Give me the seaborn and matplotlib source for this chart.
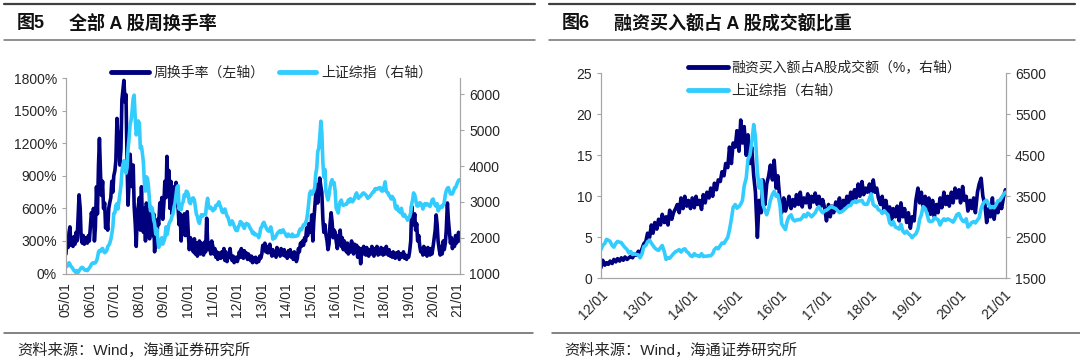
import matplotlib
matplotlib.use("Agg")
import matplotlib.pyplot as plt
import matplotlib.dates as mdates
from matplotlib.lines import Line2D
from matplotlib.ticker import FuncFormatter
import seaborn as sns
import pandas as pd

sns.set_style("white")
plt.rcParams['font.family'] = ['Liberation Sans', 'Noto Sans CJK SC', 'DejaVu Sans']

# --- DATA: semi-monthly readings (1st / 15th of each month) ---
# 图5: all A shares weekly turnover (%), 2005/01 - 2021/02
turnover = [
    180, 330, 240, 380, 430, 260, 320, 250, 340, 270, 380, 300, 520, 725, 600, 330, 280, 350, 270, 330, 300, 280, 350, 300,  # 2005
    450, 560, 500, 600, 300, 420, 800, 550, 1000, 1245, 900, 720, 850, 600, 650, 420, 500, 400, 600, 650, 700, 850, 750, 900,  # 2006
    950, 1040, 1430, 1230, 1300, 1000, 1150, 1600, 1700, 1780, 1580, 1650, 1040, 630, 850, 1100, 900, 800, 1000, 620, 450, 250, 550, 620,  # 2007
    700, 400, 800, 500, 380, 600, 300, 650, 420, 550, 320, 600, 480, 350, 550, 200, 400, 250, 500, 450, 650, 550, 700, 500,  # 2008
    650, 850, 700, 1080, 800, 950, 600, 850, 550, 700, 800, 640, 840, 700, 600, 450, 550, 300, 500, 400, 550, 350, 450, 570,  # 2009
    350, 220, 330, 260, 300, 200, 320, 180, 280, 160, 250, 300, 180, 280, 220, 170, 290, 200, 510, 300, 220, 280, 180, 300,  # 2010
    250, 180, 230, 150, 200, 130, 190, 160, 140, 200, 150, 230, 120, 200, 110, 180, 150, 230, 140, 120, 160, 100, 130, 150,  # 2011
    110, 140, 200, 150, 230, 170, 140, 210, 160, 190, 130, 180, 150, 120, 160, 100, 140, 110, 150, 100, 130, 110, 160, 140,  # 2012
    180, 260, 230, 280, 200, 250, 190, 240, 270, 200, 160, 220, 170, 200, 150, 240, 180, 210, 160, 230, 190, 170, 220, 160,  # 2013
    180, 140, 210, 160, 220, 150, 190, 130, 200, 170, 110, 140, 230, 200, 280, 250, 300, 260, 330, 300, 420, 350, 460, 400,  # 2014
    380, 540, 300, 480, 600, 720, 820, 650, 780, 880, 800, 750, 500, 380, 450, 360, 300, 220, 270, 450, 560, 480, 330, 400,  # 2015
    380, 300, 230, 350, 280, 400, 250, 330, 220, 300, 260, 200, 280, 180, 250, 200, 300, 220, 180, 270, 200, 260, 150, 240,  # 2016
    200, 90, 230, 180, 250, 200, 170, 240, 190, 160, 220, 180, 250, 200, 160, 230, 190, 250, 170, 210, 180, 240, 200, 170,  # 2017
    230, 180, 250, 200, 170, 220, 160, 190, 150, 200, 170, 140, 190, 160, 200, 130, 180, 150, 160, 200, 140, 170, 130, 160,  # 2018
    150, 200, 300, 620, 500, 450, 550, 400, 460, 300, 350, 250, 200, 230, 170, 250, 180, 220, 160, 240, 200, 170, 230, 180,  # 2019
    250, 320, 400, 540, 450, 300, 220, 170, 250, 180, 300, 220, 280, 400, 650, 500, 380, 280, 330, 230, 300, 250, 350, 280,  # 2020
    330, 380, 300,  # 2021
]

# SSE composite index (both charts), 2005/01 - 2021/02
sse = [
    1260, 1200, 1230, 1300, 1260, 1200, 1170, 1130, 1080, 1060, 1020, 1080, 1030, 1080, 1120, 1160, 1170, 1150, 1110, 1090, 1100, 1080, 1120, 1160,  # 2005
    1200, 1260, 1290, 1300, 1290, 1300, 1350, 1440, 1600, 1640, 1620, 1680, 1700, 1630, 1580, 1600, 1640, 1750, 1790, 1840, 1950, 2100, 2300, 2675,  # 2006
    2700, 2900, 2950, 2800, 3000, 3180, 3450, 3840, 4050, 4150, 3900, 3800, 3950, 4450, 4800, 5150, 5300, 5550, 5900, 5980, 5300, 4870, 5000, 5260,  # 2007
    5200, 4500, 4550, 4350, 4100, 3550, 3300, 3700, 3650, 3450, 3000, 2750, 2850, 2780, 2500, 2400, 2100, 2250, 2000, 1730, 1800, 1900, 2000, 1820,  # 2008
    1900, 1990, 2300, 2080, 2200, 2370, 2450, 2480, 2600, 2650, 2850, 2960, 3200, 3410, 3450, 2800, 2900, 2780, 2950, 3000, 3200, 3150, 3300, 3280,  # 2009
    3200, 2990, 2950, 3050, 3100, 3110, 3050, 2870, 2650, 2600, 2450, 2400, 2550, 2640, 2600, 2640, 2650, 2650, 2950, 3100, 2850, 2820, 2850, 2810,  # 2010
    2750, 2790, 2800, 2900, 2900, 2930, 3000, 2910, 2850, 2740, 2700, 2760, 2800, 2700, 2600, 2570, 2450, 2360, 2400, 2470, 2400, 2330, 2250, 2200,  # 2011
    2200, 2300, 2350, 2450, 2430, 2400, 2300, 2260, 2350, 2400, 2380, 2370, 2300, 2250, 2200, 2120, 2150, 2080, 2100, 2080, 2070, 2000, 2100, 2270,  # 2012
    2300, 2390, 2430, 2360, 2300, 2240, 2200, 2180, 2250, 2300, 2150, 1960, 2000, 1990, 2050, 2100, 2150, 2170, 2200, 2140, 2200, 2220, 2150, 2120,  # 2013
    2050, 2030, 2100, 2060, 2050, 2030, 2100, 2030, 2040, 2040, 2050, 2050, 2100, 2200, 2250, 2220, 2300, 2360, 2350, 2420, 2500, 2680, 2950, 3230,  # 2014
    3300, 3210, 3250, 3310, 3400, 3750, 3950, 4400, 4500, 4800, 5250, 4950, 4100, 3700, 3900, 3300, 3150, 3050, 3200, 3400, 3550, 3620, 3500, 3540,  # 2015
    3300, 2830, 2750, 2690, 2900, 3000, 3050, 2940, 2900, 2920, 2930, 2930, 2980, 3050, 3000, 3090, 3050, 3000, 3050, 3100, 3200, 3250, 3150, 3100,  # 2016
    3150, 3160, 3200, 3240, 3250, 3220, 3200, 3150, 3100, 3120, 3150, 3190, 3230, 3270, 3280, 3360, 3370, 3350, 3380, 3390, 3400, 3320, 3300, 3310,  # 2017
    3450, 3560, 3300, 3260, 3250, 3170, 3150, 3080, 3150, 3100, 3050, 2850, 2800, 2880, 2750, 2730, 2700, 2820, 2650, 2600, 2650, 2590, 2550, 2490,  # 2018
    2550, 2580, 2700, 2940, 3050, 3250, 3200, 3080, 2900, 2880, 2900, 2980, 2950, 2930, 2800, 2890, 2950, 2910, 2950, 2930, 2900, 2870, 2950, 3050,  # 2019
    3080, 2980, 2900, 2880, 2950, 2750, 2800, 2860, 2880, 2850, 2920, 2980, 3200, 3310, 3380, 3400, 3300, 3220, 3250, 3220, 3300, 3390, 3400, 3470,  # 2020
    3550, 3600, 3620,  # 2021
]

# 图6: margin purchases / A-share turnover (%), 2012/01 - 2021/01
margin_share = [
    1.3, 2.2, 1.6, 1.9, 1.7, 2.1, 1.8, 2.3, 2.0, 2.4, 2.1, 2.5, 2.2, 2.6, 2.3, 2.5, 2.7, 2.5, 3.0, 2.8, 3.3, 3.0, 3.6, 4.2,  # 2012
    4.5, 5.5, 5.0, 6.5, 5.5, 6.8, 6.0, 7.2, 6.5, 7.8, 6.8, 7.5, 6.5, 8.3, 7.2, 8.0, 8.5, 9.0, 8.0, 9.8, 8.5, 10.0, 8.8, 9.5,  # 2013
    8.5, 9.8, 8.6, 10.0, 9.0, 9.5, 8.4, 10.2, 9.2, 10.5, 9.8, 11.0, 10.0, 11.6, 10.8, 12.0, 11.8, 13.0, 12.5, 14.0, 13.5, 16.0, 14.0, 16.5,  # 2014
    16.0, 18.0, 15.5, 19.3, 16.5, 18.5, 15.0, 17.5, 14.0, 16.0, 12.5, 10.5, 5.0, 9.5, 8.0, 12.0, 9.0, 11.5, 12.5, 13.8, 12.0, 14.4, 11.0, 12.5,  # 2015
    9.5, 8.0, 9.8, 8.2, 9.0, 10.0, 8.5, 9.6, 8.8, 10.2, 9.0, 10.5, 8.7, 9.8, 9.2, 10.3, 8.6, 10.0, 9.3, 10.4, 9.0, 10.0, 8.8, 9.6,  # 2016
    8.5, 7.0, 9.0, 7.5, 8.8, 8.0, 9.3, 8.5, 9.8, 8.2, 9.5, 8.8, 10.0, 9.0, 10.5, 9.5, 10.8, 9.8, 11.5, 10.0, 11.8, 10.2, 11.0, 10.5,  # 2017
    11.5, 10.3, 12.0, 10.5, 11.0, 9.8, 9.0, 10.0, 8.2, 9.5, 7.8, 8.7, 7.2, 8.5, 7.5, 8.8, 7.0, 9.2, 7.5, 8.5, 6.8, 8.0, 6.1, 7.5,  # 2018
    7.0, 9.5, 11.0, 9.2, 10.5, 8.5, 10.0, 8.2, 9.8, 7.8, 9.5, 7.5, 9.0, 8.0, 9.8, 8.6, 10.5, 9.0, 10.0, 8.8, 10.5, 9.2, 11.0, 9.8,  # 2019
    10.8, 9.2, 11.2, 9.5, 10.0, 8.2, 9.5, 8.5, 9.8, 8.0, 10.5, 11.5, 12.2, 10.0, 9.0, 6.8, 8.5, 7.5, 9.8, 7.2, 9.0, 8.0, 9.5, 8.5,  # 2020
    10.0, 10.8,  # 2021
]

NAVY = "#00007F"
SKY = "#33CCFF"
SPINE = "#A6A6A6"
TXT = "#262626"
LW = 2.6

df_to = pd.DataFrame({"date": pd.date_range("2005-01-01", periods=len(turnover), freq="SMS"), "v": turnover})
df_sse = pd.DataFrame({"date": pd.date_range("2005-01-01", periods=len(sse), freq="SMS"), "v": sse})
df_mg = pd.DataFrame({"date": pd.date_range("2012-01-01", periods=len(margin_share), freq="SMS"), "v": margin_share})
df_sse6 = df_sse[(df_sse["date"] >= "2012-01-01") & (df_sse["date"] <= df_mg["date"].max())]

fig = plt.figure(figsize=(10.8, 3.59), dpi=100)


def style_axes(ax):
    ax.spines["top"].set_visible(False)
    for side in ["left", "right", "bottom"]:
        ax.spines[side].set_color(SPINE)
        ax.spines[side].set_linewidth(0.8)
    ax.tick_params(axis="both", labelsize=10, colors=TXT, direction="out",
                   length=3, width=0.8, color=SPINE)
    ax.set_xlabel("")
    ax.set_ylabel("")


# --- 图5 ---
ax1 = fig.add_axes([66 / 1080, 85.5 / 359, 394 / 1080, 195.2 / 359])
ax1b = ax1.twinx()
sns.lineplot(data=df_to, x="date", y="v", ax=ax1, color=NAVY, lw=LW)
sns.lineplot(data=df_sse, x="date", y="v", ax=ax1b, color=SKY, lw=LW)
ax1.set_ylim(0, 1800)
ax1.set_yticks(range(0, 1801, 300))
ax1.yaxis.set_major_formatter(FuncFormatter(lambda v, p: f"{int(v)}%"))
ax1b.set_ylim(1000, 6450)
ax1b.set_yticks(range(1000, 6001, 1000))
ax1.set_xlim(pd.Timestamp("2005-01-01"), pd.Timestamp("2021-02-05"))
ax1.xaxis.set_major_locator(mdates.YearLocator())
ax1.xaxis.set_major_formatter(mdates.DateFormatter("%y/%m"))
for a in (ax1, ax1b):
    style_axes(a)
plt.setp(ax1.get_xticklabels(), rotation=90)
h = [Line2D([], [], color=NAVY, lw=3.5), Line2D([], [], color=SKY, lw=3.5)]
ax1b.legend(h, ["周换手率（左轴）", "上证综指（右轴）"], ncol=2, loc="center",
            bbox_to_anchor=(0.522, 1.027), frameon=False, fontsize=10,
            handlelength=2.7, columnspacing=1.0, handletextpad=0.35)

# --- 图6 ---
ax2 = fig.add_axes([601 / 1080, 80.7 / 359, 405 / 1080, 205 / 359])
ax2b = ax2.twinx()
sns.lineplot(data=df_mg, x="date", y="v", ax=ax2, color=NAVY, lw=LW)
sns.lineplot(data=df_sse6, x="date", y="v", ax=ax2b, color=SKY, lw=LW)
ax2.set_ylim(0, 25)
ax2.set_yticks(range(0, 26, 5))
ax2b.set_ylim(1500, 6500)
ax2b.set_yticks(range(1500, 6501, 1000))
ax2.set_xlim(pd.Timestamp("2012-01-01"), pd.Timestamp("2021-01-20"))
ax2.xaxis.set_major_locator(mdates.YearLocator())
ax2.xaxis.set_major_formatter(mdates.DateFormatter("%y/%m"))
for a in (ax2, ax2b):
    style_axes(a)
plt.setp(ax2.get_xticklabels(), rotation=45, ha="right", rotation_mode="anchor")
ax2b.legend(h, ["融资买入额占A股成交额（%，右轴）", "上证综指（右轴）"], loc="upper left",
            bbox_to_anchor=(0.2015, 1.09), borderaxespad=0, frameon=False, fontsize=10,
            handlelength=2.9, handletextpad=0.2, labelspacing=0.65)

# --- titles, rules, sources ---
for x0, x1 in [(4, 535), (549, 1075)]:
    fig.add_artist(Line2D([x0 / 1080, x1 / 1080], [1 - 4 / 359] * 2, transform=fig.transFigure, color="#404040", lw=1.6))
    fig.add_artist(Line2D([x0 / 1080, x1 / 1080], [1 - 40 / 359] * 2, transform=fig.transFigure, color="#707070", lw=1.1))
for x0, x1 in [(4, 533), (552, 1080)]:
    fig.add_artist(Line2D([x0 / 1080, x1 / 1080], [26 / 359] * 2, transform=fig.transFigure, color="#606060", lw=1.1))

title_kw = dict(fontsize=13, fontweight="bold", va="center", color="#111111")
fig.text(17 / 1080, 1 - 24 / 359, "图5", **title_kw)
fig.text(69 / 1080, 1 - 24 / 359, "全部 A 股周换手率", **title_kw)
fig.text(562 / 1080, 1 - 24 / 359, "图6", **title_kw)
fig.text(614 / 1080, 1 - 24 / 359, "融资买入额占 A 股成交额比重", **title_kw)
fig.text(17 / 1080, 9 / 359, "资料来源：Wind，海通证券研究所", fontsize=11, va="center", color=TXT)
fig.text(564 / 1080, 9 / 359, "资料来源：Wind，海通证券研究所", fontsize=11, va="center", color=TXT)

fig.savefig("out.png", dpi=100)
